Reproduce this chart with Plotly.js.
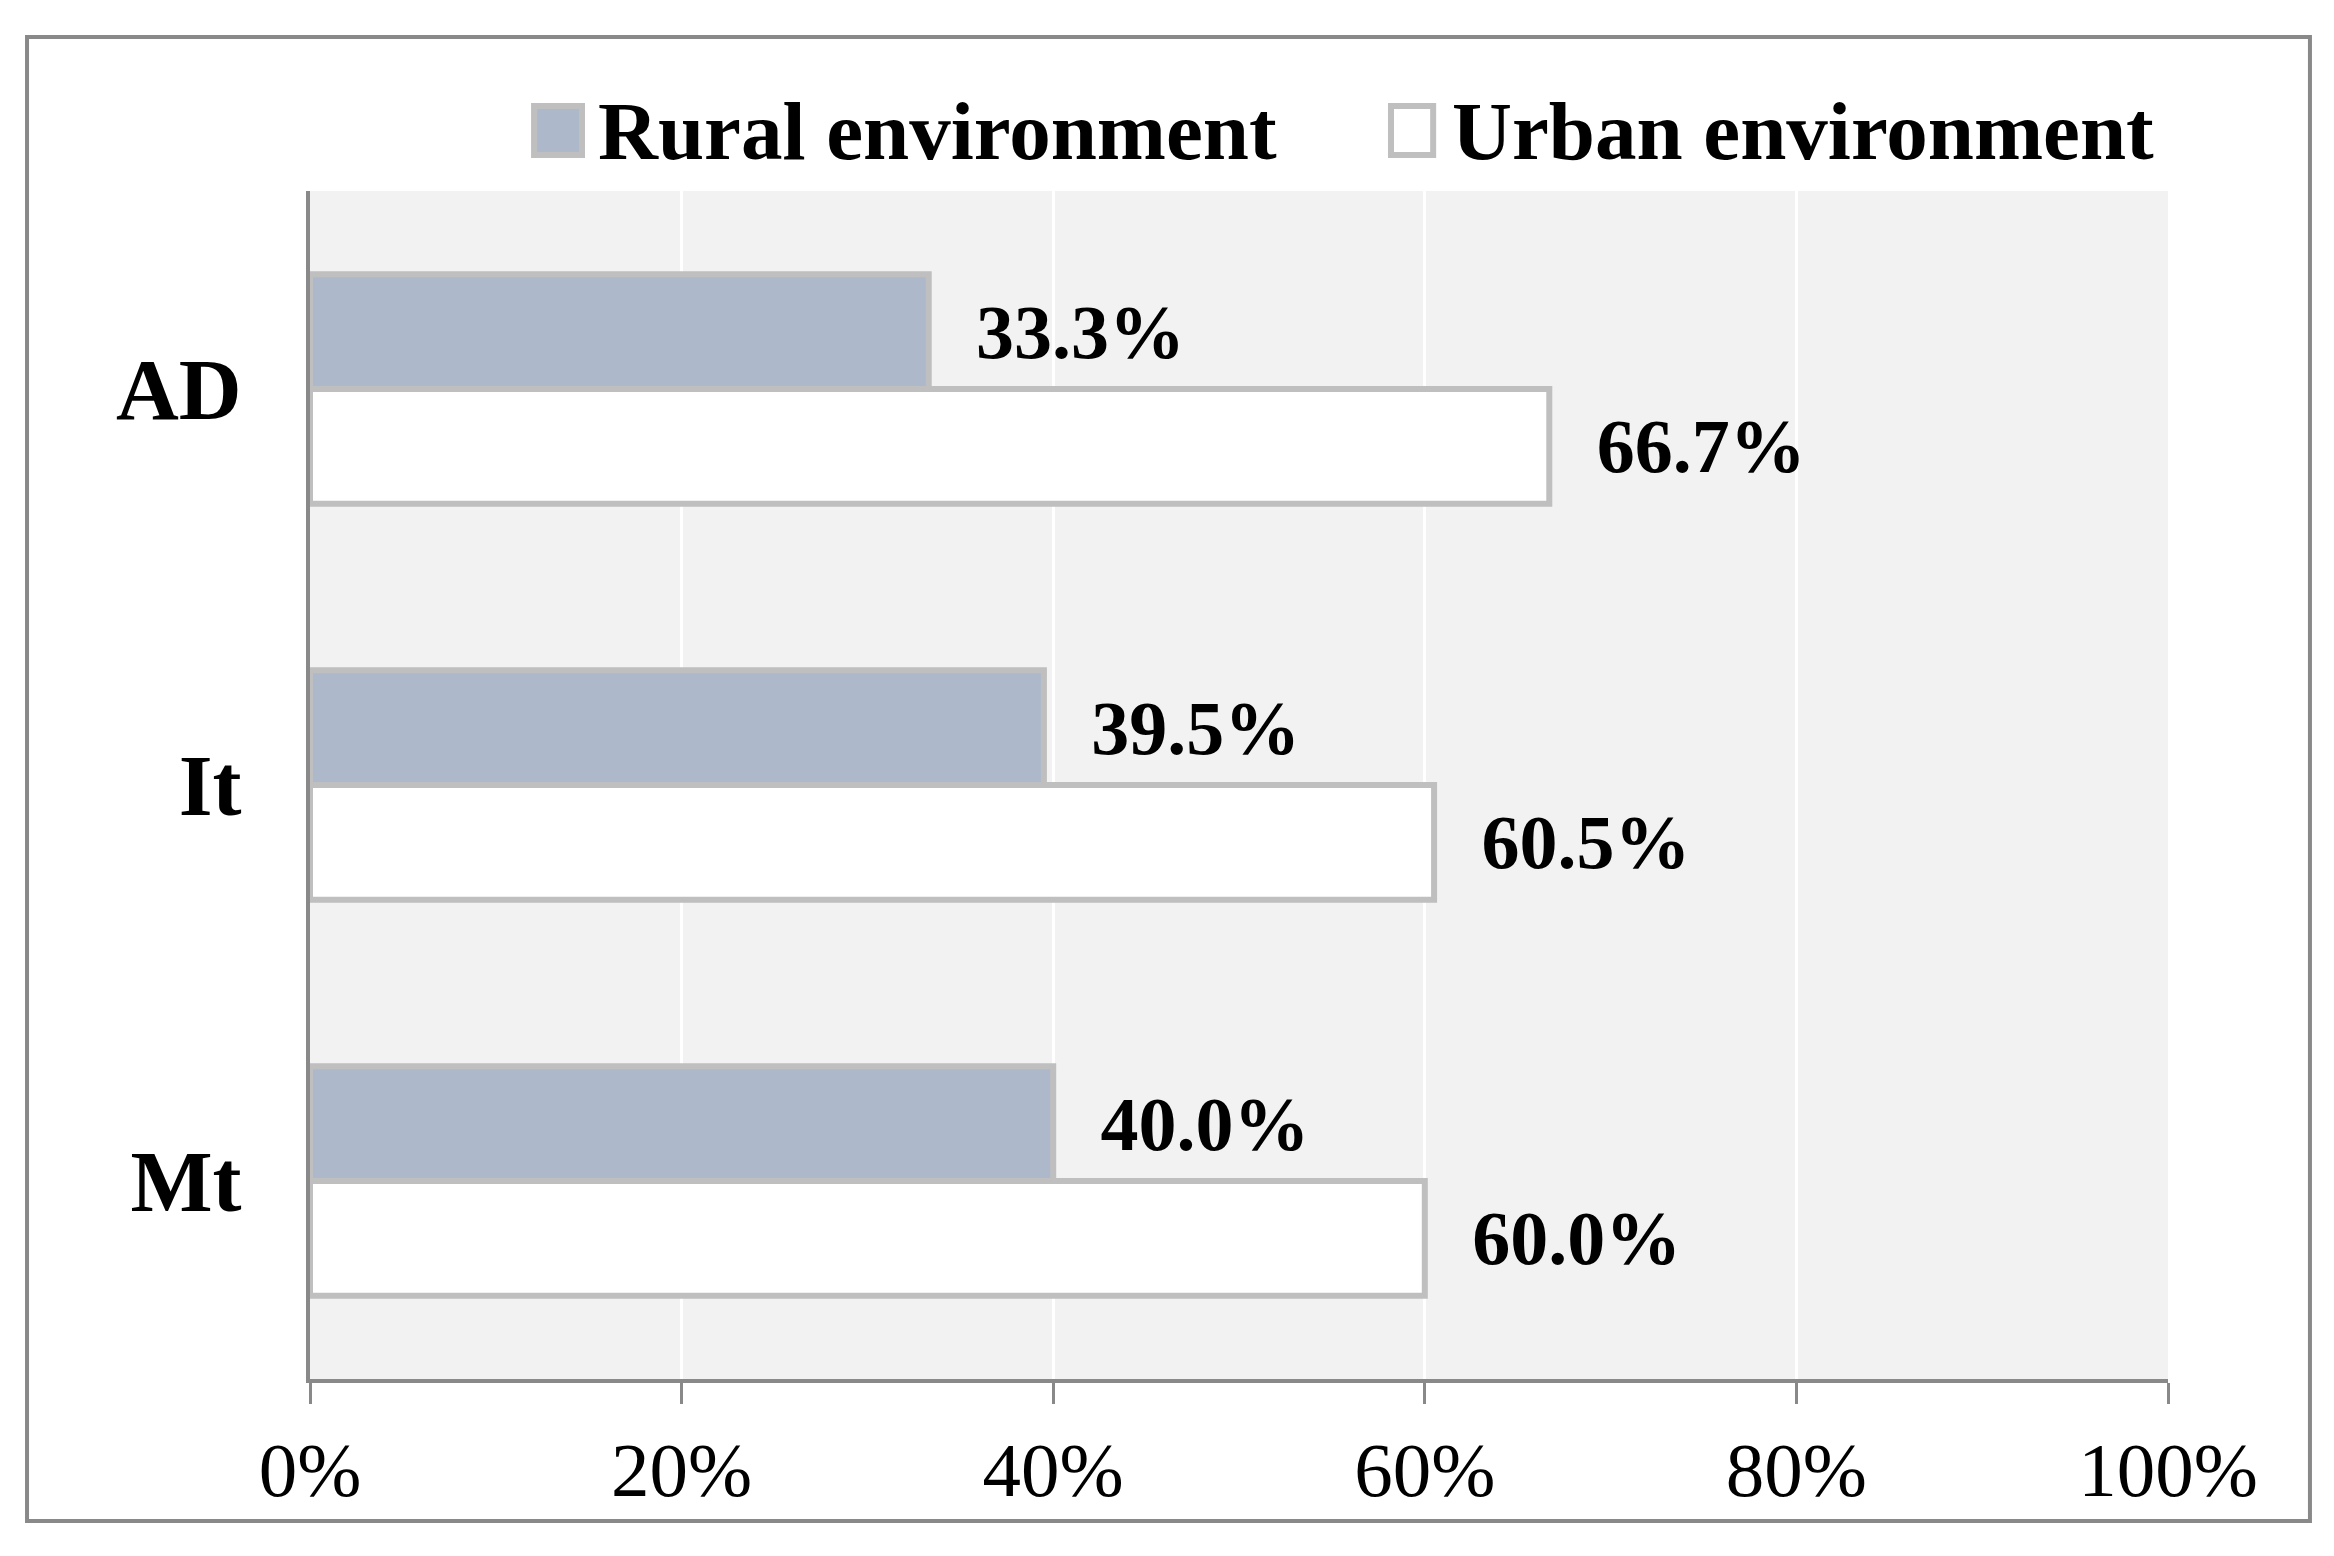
<!DOCTYPE html>
<html>
<head>
<meta charset="utf-8">
<script src="https://cdn.plot.ly/plotly-3.0.1.min.js"></script>
<style>
html,body{margin:0;padding:0;background:#ffffff;}
#chart{width:2334px;height:1556px;}
</style>
</head>
<body>
<div id="chart"></div>
<script>
// ---- data ----
const categories = ['AD', 'It', 'Mt'];
const ruralValues = [0.333, 0.395, 0.400];
const urbanValues = [0.667, 0.605, 0.600];
const seriesNames = ['Rural environment', 'Urban environment'];
const xTickValues = [0, 0.2, 0.4, 0.6, 0.8, 1.0];
const xTickLabels = ['0%', '20%', '40%', '60%', '80%', '100%'];

// ---- styles ----
const FONT = '"Liberation Serif", "Times New Roman", serif';
const ruralFill = '#adb9ca';
const urbanFill = '#ffffff';
const barLine = '#bfbfbf';
const axisGray = '#898989';

const labelTemplate = '\u2002\u200a%{x:.1%}';

const traces = [
  {
    type: 'bar', orientation: 'h', name: seriesNames[0],
    y: categories, x: ruralValues,
    marker: {color: ruralFill, line: {color: barLine, width: 6}},
    texttemplate: labelTemplate, textposition: 'outside', cliponaxis: false,
    constraintext: 'none',
    textfont: {family: FONT, size: 76, color: '#000000', weight: 'bold'},
    showlegend: false, hoverinfo: 'none'
  },
  {
    type: 'bar', orientation: 'h', name: seriesNames[1],
    y: categories, x: urbanValues,
    marker: {color: urbanFill, line: {color: barLine, width: 6}},
    texttemplate: labelTemplate, textposition: 'outside', cliponaxis: false,
    constraintext: 'none',
    textfont: {family: FONT, size: 76, color: '#000000', weight: 'bold'},
    showlegend: false, hoverinfo: 'none'
  }
];

// manual legend (paper coordinates)
const legendY0 = 1.0303, legendY1 = 1.0715;
const legendItems = [
  {x0: 0.1206, x1: 0.1464, tx: 0.1537, fill: ruralFill, name: seriesNames[0]},
  {x0: 0.5818, x1: 0.6045, tx: 0.6135, fill: urbanFill, name: seriesNames[1]}
];

const shapes = [
  // outer frame
  {type: 'rect', xref: 'paper', yref: 'paper', x0: -0.1523, x1: 1.0764, y0: -0.1195, y1: 1.1296,
   line: {color: axisGray, width: 4}, fillcolor: 'rgba(0,0,0,0)', layer: 'below'}
];
const annotations = [];
legendItems.forEach(it => {
  shapes.push({type: 'rect', xref: 'paper', yref: 'paper', x0: it.x0, x1: it.x1, y0: legendY0, y1: legendY1,
               line: {color: barLine, width: 6}, fillcolor: it.fill});
  annotations.push({xref: 'paper', yref: 'paper', x: it.tx, y: 1.0505, xanchor: 'left', yanchor: 'middle',
                    showarrow: false, text: it.name,
                    font: {family: FONT, size: 83, color: '#000000', weight: 'bold'}});
});

const layout = {
  width: 2334, height: 1556,
  margin: {l: 310, r: 166, t: 191, b: 177, pad: 0},
  paper_bgcolor: '#ffffff', plot_bgcolor: '#f2f2f2',
  barmode: 'group', bargap: 0.42, bargroupgap: 0,
  showlegend: false,
  font: {family: FONT, color: '#000000'},
  xaxis: {
    range: [0, 1], tickvals: xTickValues, ticktext: xTickLabels,
    showgrid: true, gridcolor: '#ffffff', gridwidth: 3,
    zeroline: false, showline: true, linecolor: axisGray, linewidth: 4,
    ticks: 'outside', ticklen: 21, tickwidth: 3, tickcolor: axisGray,
    tickfont: {family: FONT, size: 77, color: '#000000'},
    fixedrange: true
  },
  yaxis: {
    type: 'category', categoryorder: 'array', categoryarray: categories,
    autorange: 'reversed',
    showgrid: false, zeroline: false, showline: true, linecolor: axisGray, linewidth: 4,
    ticks: '', ticklabelstandoff: 47,
    tickfont: {family: FONT, size: 87, color: '#000000', weight: 'bold'},
    fixedrange: true
  },
  shapes: shapes,
  annotations: annotations
};

Plotly.newPlot('chart', traces, layout, {displayModeBar: false, staticPlot: true});
</script>
</body>
</html>
